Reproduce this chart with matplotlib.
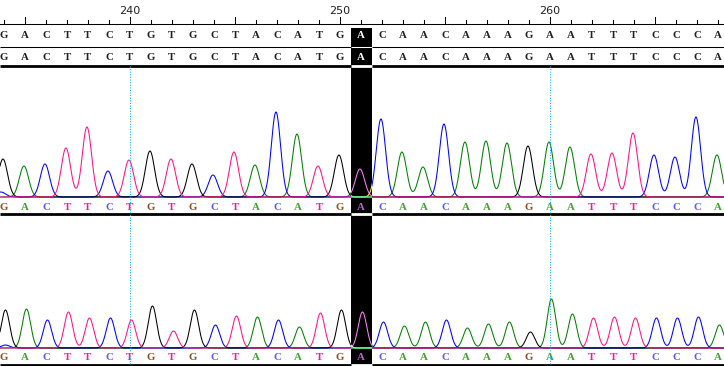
import matplotlib
matplotlib.use("Agg")
import matplotlib.pyplot as plt
import numpy as np
from matplotlib.patches import Rectangle

# sequentie en posities (basenummers)
START = 234
sequence = list("GACTTCTGTGCTACATGACAACAAAGAATTTCCCA")
highlight_pos = 251
marker_pos = [240, 260]
label_pos = [240, 250, 260]

# piekhoogtes (pixels boven de basislijn) per base, bovenste en onderste spoor
top_heights = [38, 31, 33, 49, 70, 26, 37, 46, 38, 33, 22, 45, 32, 85, 63, 31, 42, 28,
               78, 45, 30, 73, 55, 56, 54, 51, 55, 50, 43, 44, 64, 42, 40, 80, 42]
bottom_heights = [38, 39, 28, 36, 30, 30, 28, 42, 17, 38, 23, 32, 31, 28, 21, 35, 38, 36,
                  26, 22, 26, 28, 20, 24, 26, 16, 49, 34, 30, 31, 30, 30, 30, 31, 23]

# kleine nevenpieken: (base, positie, hoogte)
top_minor = [("C", 233.9, 5)]
bottom_minor = [("C", 234.0, 3)]

trace_colors = {"A": "#008000", "C": "#0000ff", "G": "#000000", "T": "#ff1088"}
label_colors = {"A": "#40a030", "C": "#5a5aff", "G": "#8a5020", "T": "#ff1493"}


def invert(color):
    rgb = matplotlib.colors.to_rgb(color)
    return tuple(1 - c for c in rgb)


W, H = 724, 366
PX = 21.0  # pixels per base
xmin = 240 - 130 / PX
xmax = xmin + W / PX

fig = plt.figure(figsize=(W / 100, H / 100), dpi=100)
ax = fig.add_axes([0, 0, 1, 1])
ax.set_xlim(xmin, xmax)
ax.set_ylim(H, 0)
ax.axis("off")

positions = np.arange(START, START + len(sequence))
xs = np.linspace(xmin, xmax, 4000)

col = Rectangle((highlight_pos - 0.5, 28), 1.0, H - 28, facecolor="black",
                edgecolor="none", zorder=5)
ax.add_patch(col)
clip = Rectangle((highlight_pos - 0.5, 28), 1.0, H - 28, transform=ax.transData)

LW = 0.75
FONT = dict(fontsize=7.8, family="Liberation Serif", fontweight="bold")


def hline(y, lw):
    ax.plot([xmin, xmax], [y, y], color="black", lw=lw, zorder=3, solid_capstyle="butt")
    ax.plot([highlight_pos - 0.5, highlight_pos + 0.5], [y, y], color="white",
            lw=lw, zorder=7, solid_capstyle="butt")


# liniaal
ax.plot([xmin, xmax], [24, 24], color="black", lw=LW, zorder=3)
for p in np.arange(int(np.floor(xmin)), int(np.ceil(xmax)) + 1):
    top = 17 if p % 5 == 0 else 20
    ax.plot([p, p], [24, top], color="black", lw=LW, zorder=3)
for p in label_pos:
    ax.text(p, 11, str(p), ha="center", va="center", fontsize=8,
            family="DejaVu Sans", color="#202020")

# twee sequentie-rijen
for y in (36, 58):
    for p, b in zip(positions, sequence):
        c = "white" if p == highlight_pos else "#202020"
        ax.text(p, y, b, ha="center", va="center", color=c, zorder=8, **FONT)
hline(47, LW)
hline(65.5, 2.0)

# cyaan markeringen
for p in marker_pos:
    ax.plot([p, p], [66, H], color="#10b0ff", lw=LW, ls=(0, (1, 1.5)), zorder=9)


def draw_trace(heights, minor, baseline, sigma, shift, label_y, line_y):
    for base in ["A", "C", "G", "T"]:
        sig = np.zeros_like(xs)
        for p, b, h in zip(positions, sequence, heights):
            if b == base:
                sig += h * np.exp(-0.5 * ((xs - p - shift) / sigma) ** 2)
        for b, p, h in minor:
            if b == base:
                sig += h * np.exp(-0.5 * ((xs - p - shift) / sigma) ** 2)
        ys = baseline - sig
        ax.plot(xs, ys, color=trace_colors[base], lw=LW, zorder=4)
        ln, = ax.plot(xs, ys, color=invert(trace_colors[base]), lw=LW, zorder=6)
        ln.set_clip_path(clip)
    for p, b in zip(positions, sequence):
        c = label_colors[b]
        if p == highlight_pos:
            c = invert(c)
        ax.text(p, label_y, b, ha="center", va="center", color=c, zorder=8, **FONT)
    hline(line_y, 2.0)


draw_trace(top_heights, top_minor, 197, 0.22, -0.05, 207, 214)
draw_trace(bottom_heights, bottom_minor, 348, 0.20, 0.07, 357, 365)

fig.savefig("out.png", dpi=100)
